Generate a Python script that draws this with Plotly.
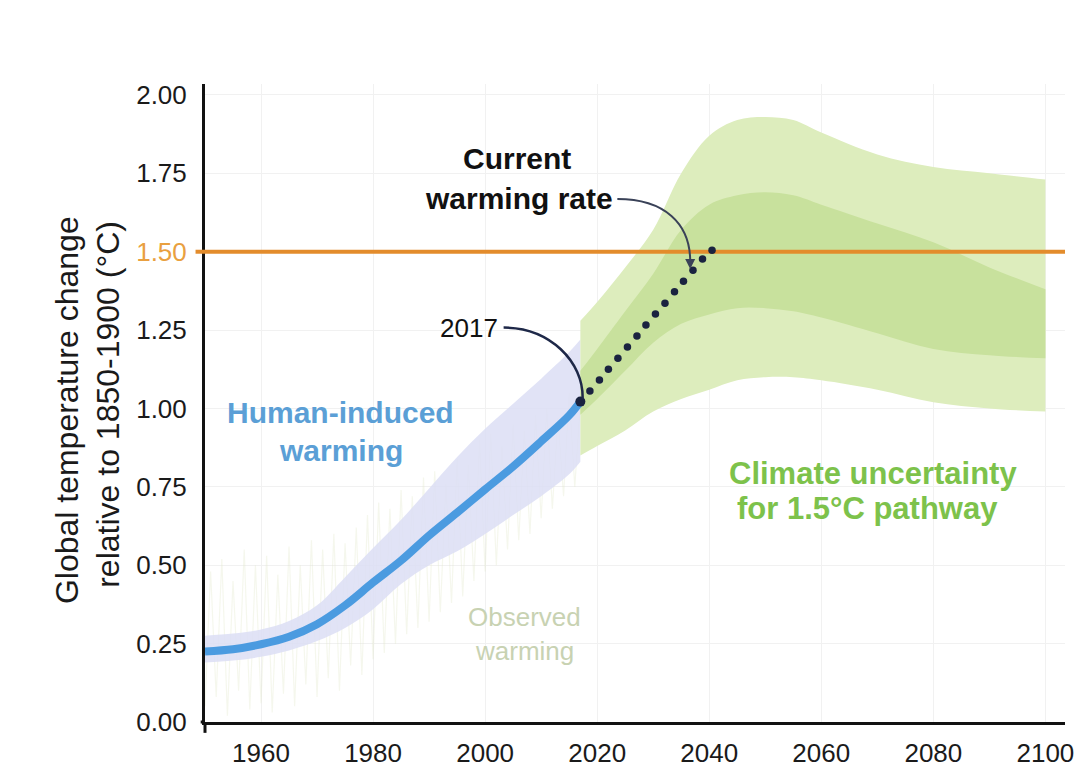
import plotly.graph_objects as go

# ---------------- data ----------------
hist_years = [1950, 1955, 1960, 1965, 1970, 1975, 1980, 1985, 1990, 1995, 2000, 2005, 2010, 2015, 2017]
human_induced = [0.225, 0.232, 0.248, 0.272, 0.312, 0.372, 0.445, 0.515, 0.595, 0.668, 0.742, 0.815, 0.895, 0.978, 1.022]
human_upper = [0.275, 0.282, 0.295, 0.322, 0.372, 0.462, 0.555, 0.645, 0.745, 0.845, 0.935, 1.015, 1.095, 1.180, 1.220]
human_lower = [0.190, 0.196, 0.208, 0.228, 0.258, 0.300, 0.360, 0.440, 0.500, 0.545, 0.600, 0.660, 0.720, 0.790, 0.830]

obs_years = list(range(1950, 2018))
obs_vals = [0.05, 0.48, 0.08, 0.52, 0.02, 0.45, 0.10, 0.55, 0.04, 0.50,
            0.06, 0.53, 0.03, 0.47, 0.09, 0.56, 0.05, 0.50, 0.12, 0.58,
            0.08, 0.55, 0.14, 0.60, 0.10, 0.57, 0.18, 0.62, 0.15, 0.66,
            0.20, 0.70, 0.22, 0.68, 0.25, 0.74, 0.28, 0.72, 0.30, 0.78,
            0.32, 0.80, 0.35, 0.76, 0.38, 0.84, 0.40, 0.82, 0.45, 0.90,
            0.48, 0.92, 0.50, 0.88, 0.55, 0.95, 0.58, 0.93, 0.60, 0.98,
            0.65, 1.00, 0.68, 0.97, 0.72, 1.05, 0.75, 1.02]

proj_years = [2017, 2020, 2025, 2030, 2035, 2040, 2045, 2050, 2055, 2060, 2070, 2080, 2090, 2100]
outer_upper = [1.28, 1.34, 1.45, 1.57, 1.75, 1.87, 1.92, 1.93, 1.92, 1.88, 1.81, 1.77, 1.75, 1.73]
outer_lower = [0.85, 0.88, 0.93, 0.99, 1.03, 1.06, 1.09, 1.10, 1.10, 1.09, 1.06, 1.02, 1.00, 0.99]
inner_upper = [1.12, 1.19, 1.31, 1.43, 1.57, 1.65, 1.68, 1.69, 1.68, 1.65, 1.59, 1.53, 1.45, 1.38]
inner_lower = [0.98, 1.03, 1.12, 1.21, 1.27, 1.30, 1.32, 1.32, 1.31, 1.29, 1.24, 1.19, 1.17, 1.16]

rate_years = [2017.0, 2018.7, 2020.4, 2022.0, 2023.7, 2025.4, 2027.1, 2028.7,
              2030.4, 2032.1, 2033.8, 2035.4, 2037.1, 2038.8, 2040.5]
rate_vals = [1.022, 1.056, 1.091, 1.125, 1.160, 1.196, 1.231, 1.266,
             1.301, 1.336, 1.372, 1.406, 1.441, 1.477, 1.505]

target_level = 1.50
x_ticks = [1960, 1980, 2000, 2020, 2040, 2060, 2080, 2100]
y_ticks = [0.00, 0.25, 0.50, 0.75, 1.00, 1.25, 1.50, 1.75, 2.00]
y_ticklabels = ["0.00", "0.25", "0.50", "0.75", "1.00", "1.25",
                "<span style='color:#e9a040'>1.50</span>", "1.75", "2.00"]
x_range = [1950, 2103.5]
y_range = [0, 2.035]

FONT = "Liberation Sans, Arial, sans-serif"

fig = go.Figure()

# observed warming (very faint)
fig.add_trace(go.Scatter(x=obs_years, y=obs_vals, mode="lines",
                         line=dict(color="rgba(226,232,204,0.35)", width=1.2),
                         hoverinfo="skip"))

# human-induced uncertainty band
fig.add_trace(go.Scatter(x=hist_years, y=human_lower, mode="lines",
                         line=dict(width=0, shape="spline"), hoverinfo="skip"))
fig.add_trace(go.Scatter(x=hist_years, y=human_upper, mode="lines",
                         line=dict(width=0, shape="spline"), fill="tonexty",
                         fillcolor="rgba(220,222,245,0.85)", hoverinfo="skip"))

# green bands
fig.add_trace(go.Scatter(x=proj_years, y=outer_lower, mode="lines",
                         line=dict(width=0, shape="spline"), hoverinfo="skip"))
fig.add_trace(go.Scatter(x=proj_years, y=outer_upper, mode="lines",
                         line=dict(width=0, shape="spline"), fill="tonexty",
                         fillcolor="#ddedbd", hoverinfo="skip"))
fig.add_trace(go.Scatter(x=proj_years, y=inner_lower, mode="lines",
                         line=dict(width=0, shape="spline"), hoverinfo="skip"))
fig.add_trace(go.Scatter(x=proj_years, y=inner_upper, mode="lines",
                         line=dict(width=0, shape="spline"), fill="tonexty",
                         fillcolor="#c8e19d", hoverinfo="skip"))

# human-induced warming line
fig.add_trace(go.Scatter(x=hist_years, y=human_induced, mode="lines",
                         line=dict(color="#4b9be0", width=8, shape="spline"),
                         hoverinfo="skip"))

# 1.5 level
fig.add_trace(go.Scatter(x=x_range, y=[target_level, target_level], mode="lines",
                         line=dict(color="#e38c2c", width=4), hoverinfo="skip"))

# current warming rate dots
fig.add_trace(go.Scatter(x=rate_years, y=rate_vals, mode="markers",
                         marker=dict(color="#1a2340", size=7.5), hoverinfo="skip"))
fig.add_trace(go.Scatter(x=[rate_years[0]], y=[rate_vals[0]], mode="markers",
                         marker=dict(color="#1a2340", size=10), hoverinfo="skip"))

# small extensions outside the plot area (axis cross, 1.5 tick)
fig.add_shape(type="line", xref="paper", yref="y", x0=-0.011, x1=0,
              y0=target_level, y1=target_level, line=dict(color="#e38c2c", width=4))
fig.add_shape(type="line", xref="paper", yref="paper", x0=-0.005, x1=0,
              y0=0, y1=0, line=dict(color="#111111", width=3))
fig.add_shape(type="line", xref="paper", yref="paper", x0=0, x1=0,
              y0=-0.017, y1=0, line=dict(color="#111111", width=3))

# curved connectors
fig.add_shape(type="path", xref="x", yref="y",
              path="M 2003.3,1.258 C 2011.5,1.258 2017.6,1.15 2017.4,1.030",
              line=dict(color="#1e2848", width=2.5), layer="above")
fig.add_shape(type="path", xref="x", yref="y",
              path="M 2023.6,1.668 C 2032.0,1.668 2036.6,1.59 2036.6,1.47",
              line=dict(color="#3a4258", width=2), layer="above")
fig.add_annotation(x=2036.6, y=1.445, xref="x", yref="y", ax=0, ay=-10,
                   text="", showarrow=True, arrowhead=2, arrowsize=1,
                   arrowwidth=2, arrowcolor="#3a4258")

def label(text, px, py, size, color, bold=False):
    fig.add_annotation(text=f"<b>{text}</b>" if bold else text,
                       xref="paper", yref="paper",
                       x=(px - 205) / 867, y=(722 - py) / 638,
                       xanchor="center", yanchor="middle", showarrow=False,
                       font=dict(family=FONT, size=size, color=color))

label("Current", 520, 158, 30, "#111111", True)
label("warming rate", 522, 198, 30, "#111111", True)
label("2017", 471, 328, 26, "#111111")
label("Human-induced", 342, 412, 30, "#5b9fd6", True)
label("warming", 342, 450, 30, "#5b9fd6", True)
label("Climate uncertainty", 878, 473, 31, "#7dc24b", True)
label("for 1.5°C pathway", 873, 508, 31, "#7dc24b", True)
label("Observed", 527, 617, 26, "#c8d2b2")
label("warming", 527, 651, 26, "#c8d2b2")

# y-axis title lines
for txt, px, py in [("Global temperature change", 66, 410),
                    ("relative to 1850-1900 (°C)", 107, 404)]:
    fig.add_annotation(text=txt, xref="paper", yref="paper",
                       x=(px - 205) / 867, y=(722 - py) / 638,
                       xanchor="center", yanchor="middle", textangle=-90,
                       showarrow=False,
                       font=dict(family=FONT, size=32, color="#1a1a1a"))

fig.update_layout(
    width=1086, height=780,
    margin=dict(l=205, r=14, t=84, b=58),
    plot_bgcolor="white", paper_bgcolor="white",
    showlegend=False,
    font=dict(family=FONT, color="#1a1a1a"),
)
fig.update_xaxes(range=x_range, tickvals=x_ticks, showline=True, linecolor="#111111",
                 linewidth=3, showgrid=True, gridcolor="#f1f1f1", gridwidth=1,
                 zeroline=False, ticks="", tickfont=dict(size=26, family=FONT, color="#1a1a1a"),
                 ticklabelstandoff=6)
fig.update_yaxes(range=y_range, tickvals=y_ticks, ticktext=y_ticklabels, showline=True,
                 linecolor="#111111", linewidth=3, showgrid=True, gridcolor="#f1f1f1",
                 gridwidth=1, zeroline=False, ticks="",
                 tickfont=dict(size=26, family=FONT, color="#1a1a1a"),
                 ticklabelstandoff=10)

fig.write_html("out.html")
